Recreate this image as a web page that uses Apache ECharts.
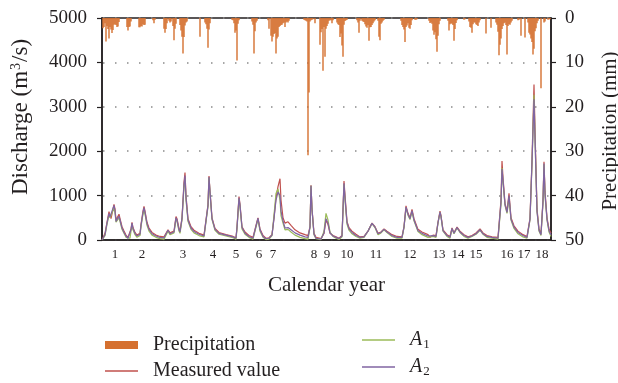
<!DOCTYPE html>
<html>
<head>
<meta charset="utf-8">
<script src="https://cdn.jsdelivr.net/npm/echarts@6/dist/echarts.min.js"></script>
<style>
  html, body { margin: 0; padding: 0; background: #fff; }
  #chart { width: 618px; height: 383px; }
</style>
</head>
<body>
<div id="chart"></div>
<script>
// Time axis runs over the full record (index 0..449); flood seasons are labelled by year number.
const yearLabels = ['1','2','3','4','5','6','7','8','9','10','11','12','13','14','15','16','17','18'];
const yearPos    = [13, 40, 81, 111, 134, 157, 171, 212, 225, 245, 274, 308, 337, 356, 374, 405, 422, 440];

// Discharge hydrographs (m3/s) sampled at these time indices
const flowDay = [
  0,1,3,5,7,8,9,10,12,13,14,15,17,18,20,22,24,26,28,29,30,31,
  33,35,37,38,39,41,42,43,45,47,50,54,58,62,64,66,68,70,72,74,75,77,78,
  80,82,83,84,86,89,92,97,102,104,106,107,108,110,113,117,124,131,134,135,137,138,140,143,147,151,153,155,156,158,161,164,167,
  170,172,174,176,178,179,181,183,186,189,193,198,203,206,208,209,210,212,214,219,222,224,225,226,228,231,234,237,240,241,242,243,245,247,250,254,258,262,
  266,270,273,276,279,282,285,290,295,300,302,304,306,308,310,312,316,320,326,328,331,334,336,338,339,341,345,348,350,352,355,358,362,366,370,374,378,381,385,390,396,
  399,400,401,403,405,407,409,412,416,421,425,427,428,430,432,433,435,437,439,441,442,443,445,447,449
];
const measured = [
  0,20,150,400,640,560,480,520,800,700,450,420,580,480,300,200,110,60,80,250,400,280,
  170,110,80,150,350,650,760,650,400,270,170,110,80,70,100,230,160,130,200,530,480,260,200,
  500,1300,1520,1000,480,300,220,150,110,150,800,1440,1100,500,260,170,120,80,50,300,980,800,300,180,100,60,100,420,500,250,100,40,50,
  120,500,950,1200,1380,900,500,380,410,330,230,160,120,100,300,1230,700,150,60,30,150,450,420,350,150,100,70,40,100,700,1330,1000,420,280,200,130,70,80,
  200,380,300,150,180,250,200,120,80,70,300,770,600,500,690,480,240,180,120,60,110,100,400,650,550,230,120,80,270,160,290,200,120,70,100,160,250,160,100,70,60,
  900,1780,1400,830,640,1050,500,320,200,120,80,100,490,1800,3500,2500,700,250,150,900,1760,1100,500,250,150
];
const simA1 = [
  0,10,100,350,560,500,520,480,720,620,400,380,500,420,240,150,60,20,40,200,350,230,
  120,60,40,100,300,580,680,580,330,200,110,60,30,20,60,200,120,90,160,480,420,200,150,
  450,1200,1380,900,420,240,160,100,70,110,750,1400,1050,460,220,130,90,50,20,250,920,750,250,130,60,20,60,380,470,200,60,10,20,
  100,560,1050,1150,900,550,380,230,240,180,110,60,30,20,280,1220,680,120,30,10,200,600,580,450,180,80,40,10,70,650,1250,900,360,220,140,80,40,60,
  200,370,280,120,160,230,170,80,40,40,280,720,560,460,640,430,190,120,60,30,80,60,380,620,520,200,80,40,250,140,270,170,80,40,80,130,220,130,60,40,20,
  800,1620,1300,780,600,950,450,260,140,70,40,60,450,1700,3270,2300,650,200,100,850,1700,1000,450,180,80
];
const simA2 = [
  0,15,120,380,600,520,500,500,780,660,420,400,540,450,270,170,90,40,60,230,380,260,
  150,90,60,130,330,620,730,620,370,240,140,90,60,50,80,220,140,110,180,500,450,230,180,
  480,1250,1450,950,450,270,190,130,90,130,780,1420,1080,480,240,150,110,70,40,280,950,780,280,150,80,40,80,400,490,230,80,30,40,
  110,480,900,1080,1000,650,430,270,280,230,160,110,70,60,290,1220,690,130,40,20,160,480,460,380,160,90,60,30,90,680,1280,950,390,250,170,100,60,70,
  200,375,290,140,170,240,180,100,60,60,290,740,580,480,660,450,210,150,90,50,100,80,390,630,530,210,100,60,260,150,280,180,100,60,90,140,230,140,80,60,40,
  850,1600,1350,800,620,1000,470,290,170,100,60,80,470,1750,3170,2300,650,220,120,870,1720,1050,470,210,110
];

// Precipitation (mm) at each rainy time index
const rainDay = [
  1,2,3,4,5,6,7,8,9,10,11,12,13,14,15,16,17,
  25,26,27,28,29,37,38,39,40,41,42,43,51,52,53,
  62,63,64,65,67,68,69,71,72,73,74,78,79,80,81,82,83,84,85,
  98,103,104,105,106,107,108,130,131,132,133,134,135,136,137,
  150,151,152,153,154,155,166,167,169,170,171,172,173,174,175,176,177,178,179,180,181,182,183,184,185,186,187,
  202,203,204,205,206,207,208,209,210,211,213,218,219,220,221,222,223,224,225,226,227,228,229,230,231,
  235,236,237,238,239,240,241,242,243,244,245,255,256,257,258,
  260,261,262,263,264,265,266,267,268,269,270,271,272,273,276,277,278,279,280,281,282,
  299,300,301,302,303,304,305,306,307,308,309,310,313,314,315,
  327,328,329,330,331,332,333,334,335,336,337,338,346,347,348,349,350,351,352,353,354,355,362,363,
  367,368,369,370,371,372,373,374,375,376,377,378,384,389,
  394,395,396,397,398,399,400,401,402,403,404,405,406,407,408,409,410,416,417,419,423,
  426,427,428,429,430,431,432,433,434,435,436,439,442,443,446,447,448
];
const rainMm = [
  2.3,2.0,1.2,5.3,1.8,2.5,4.6,2.0,2.6,3.4,2.7,1.5,1.4,1.6,2.0,1.9,0.9,
  2.0,2.8,2.0,1.9,0.8,2.1,2.1,1.8,1.9,1.4,1.6,1.5,0.5,1.2,0.4,
  2.4,3.3,2.5,1.2,0.6,1.0,0.8,1.8,5.0,2.4,1.3,1.6,2.8,4.2,8.0,4.3,1.7,1.0,0.8,
  4.2,1.0,1.4,2.4,6.7,2.6,1.2,0.4,0.5,1.2,3.3,2.8,9.6,1.3,0.5,
  0.8,1.5,8.0,3.0,1.0,0.6,0.5,2.4,4.0,5.3,4.2,3.6,3.4,8.0,4.6,4.2,2.0,1.8,1.6,1.5,1.2,1.0,2.0,1.0,0.8,1.0,0.6,
  0.4,0.5,0.6,0.8,30.9,16.8,0.8,0.5,0.4,0.3,1.2,6.0,3.2,2.5,11.9,2.0,8.7,2.4,1.8,1.3,0.6,0.5,0.5,1.2,0.5,
  1.0,1.4,1.6,4.3,3.5,6.2,8.7,1.5,0.7,0.5,0.4,0.5,1.0,3.3,0.6,
  0.6,0.8,0.9,1.4,1.9,2.2,1.6,5.1,2.1,2.0,1.6,1.2,0.8,0.5,0.6,4.2,5.0,1.3,1.0,0.6,0.4,
  0.6,1.6,2.0,2.6,5.4,2.0,1.7,1.2,2.2,2.4,1.6,0.5,0.4,0.4,0.3,
  0.6,1.1,1.0,1.3,2.8,3.8,3.2,4.8,7.6,4.0,1.4,0.6,0.6,2.8,1.4,1.2,1.3,1.6,5.1,2.5,1.1,0.5,0.4,0.3,
  0.8,2.0,2.2,3.3,1.4,1.0,1.0,1.4,1.6,1.8,1.0,0.5,3.5,2.2,
  1.0,1.5,3.1,8.4,6.0,4.6,2.5,1.8,1.2,1.0,1.6,8.2,1.8,1.4,1.5,1.0,0.6,0.5,0.4,4.0,4.4,
  1.0,3.3,3.7,4.6,5.4,8.2,6.9,3.0,2.3,1.2,0.6,15.8,1.0,0.8,0.4,0.3,0.3
];

const SERIF = "'Liberation Serif', 'DejaVu Serif', serif";
const INK = '#231f20';
const COLORS = { rain: '#d5702f', measured: '#c0504d', a1: '#9bbb59', a2: '#8064a2' };

const pairs = (xs, ys) => xs.map((x, i) => [x, ys[i]]);

const chart = echarts.init(document.getElementById('chart'), null, { renderer: 'canvas' });

const axisLine = { show: true, lineStyle: { color: INK, width: 1.5 } };
const axisTick = { show: true, inside: false, length: 5, lineStyle: { color: INK, width: 1.2 } };

const legendText = {
  fontFamily: SERIF, fontSize: 20, color: INK, lineHeight: 20, padding: [0, 0, 0, 10],
  rich: {
    i: { fontFamily: SERIF, fontSize: 20, fontStyle: 'italic', color: INK, lineHeight: 20 },
    s: { fontFamily: SERIF, fontSize: 13, color: INK, lineHeight: 13, padding: [9, 0, 0, 1] }
  }
};
// one legend entry per block so each item sits exactly where it belongs
const legendItem = (name, left, top, isBar) => ({
  left: left, top: top, padding: 0,
  itemWidth: 33, itemHeight: isBar ? 8 : 1.3,
  data: [{ name: name, icon: 'rect' }],
  formatter: n => (n === 'A1' || n === 'A2') ? '{i|A}{s|' + n.slice(1) + '}' : n,
  textStyle: legendText
});

chart.setOption({
  animation: false,
  backgroundColor: '#fff',
  grid: { left: 102, right: 67, top: 18, bottom: 143, show: true, borderColor: INK, borderWidth: 1.5 },
  xAxis: {
    type: 'value', min: 0, max: 449,
    axisLine: axisLine,
    axisTick: { show: false },
    splitLine: { show: false },
    axisLabel: {
      customValues: yearPos,
      formatter: v => yearLabels[yearPos.indexOf(v)],
      fontFamily: SERIF, fontSize: 13, color: INK, margin: 8
    },
    name: 'Calendar year', nameLocation: 'middle', nameGap: 35,
    nameTextStyle: { fontFamily: SERIF, fontSize: 21, color: INK }
  },
  yAxis: [
    {
      type: 'value', min: 0, max: 5000, interval: 1000, position: 'left',
      axisLine: axisLine, axisTick: axisTick,
      axisLabel: { fontFamily: SERIF, fontSize: 19, color: INK, margin: 15, formatter: v => String(v) },
      splitLine: { show: true, lineStyle: { type: [1.5, 10.5], dashOffset: 11, color: '#8a8a8a', width: 1.5 } }
    },
    {
      type: 'value', min: 0, max: 50, interval: 10, inverse: true, position: 'right',
      axisLine: axisLine, axisTick: axisTick,
      axisLabel: { fontFamily: SERIF, fontSize: 19, color: INK, margin: 14, formatter: v => String(v) },
      splitLine: { show: false }
    }
  ],
  legend: [
    legendItem('Precipitation', 105, 335, true),
    legendItem('Measured value', 105, 361, false),
    legendItem('A1', 362, 329, false),
    legendItem('A2', 362, 356, false)
  ],
  graphic: [
    {
      type: 'text', x: 21, y: 117, rotation: Math.PI / 2,
      style: {
        text: '{a|Discharge (m}{s|3}{a|/s)}',
        align: 'center', verticalAlign: 'middle',
        rich: {
          a: { fontFamily: SERIF, fontSize: 23, fill: INK, lineHeight: 23 },
          s: { fontFamily: SERIF, fontSize: 14, fill: INK, verticalAlign: 'top', lineHeight: 14, padding: [0, 1, 8, 1] }
        }
      }
    },
    {
      type: 'text', x: 610, y: 131, rotation: Math.PI / 2,
      style: {
        text: 'Precipitation (mm)', fontFamily: SERIF, fontSize: 21, fill: INK,
        align: 'center', verticalAlign: 'middle'
      }
    }
  ],
  series: [
    {
      name: 'Precipitation', type: 'bar', xAxisIndex: 0, yAxisIndex: 1,
      data: pairs(rainDay, rainMm), barWidth: 1.4,
      itemStyle: { color: COLORS.rain }
    },
    {
      name: 'Measured value', type: 'line', yAxisIndex: 0,
      data: pairs(flowDay, measured), symbol: 'none',
      lineStyle: { color: COLORS.measured, width: 1.2 }, itemStyle: { color: COLORS.measured }
    },
    {
      name: 'A1', type: 'line', yAxisIndex: 0,
      data: pairs(flowDay, simA1), symbol: 'none',
      lineStyle: { color: COLORS.a1, width: 1.2 }, itemStyle: { color: COLORS.a1 }
    },
    {
      name: 'A2', type: 'line', yAxisIndex: 0,
      data: pairs(flowDay, simA2), symbol: 'none',
      lineStyle: { color: COLORS.a2, width: 1.2 }, itemStyle: { color: COLORS.a2 }
    }
  ]
});
</script>
</body>
</html>
